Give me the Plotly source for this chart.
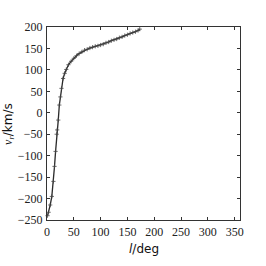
import plotly.graph_objects as go

# Data
l_deg = [1, 3, 6, 9, 12, 14, 16, 18, 19, 21, 23, 25, 27, 30, 33, 36, 40, 45, 50, 55,
         60, 65, 70, 75, 80, 85, 90, 95, 100, 105, 110, 115, 120, 125, 130, 135, 140,
         145, 150, 155, 160, 165, 170, 173]
v_r = [-240, -232, -215, -195, -160, -125, -90, -50, -40, -17, 18, 37, 57, 80, 92, 101,
       112, 120, 127, 133, 138, 142, 146, 148, 151, 153, 155, 156, 158, 160, 163, 165,
       168, 170, 172, 175, 177, 180, 182, 185, 187, 189, 192, 195]

x_ticks = [0, 50, 100, 150, 200, 250, 300, 350]
y_ticks = [-250, -200, -150, -100, -50, 0, 50, 100, 150, 200]

fig = go.Figure()
fig.add_trace(go.Scatter(
    x=l_deg, y=v_r, mode="lines+markers",
    line=dict(color="#2a2a2a", width=1.3),
    marker=dict(symbol="cross-thin", size=3, line=dict(color="#444444", width=0.8)),
    showlegend=False, cliponaxis=False,
))

axis_common = dict(
    showgrid=False, zeroline=False, showline=True, linecolor="#333333", linewidth=1,
    mirror="ticks", ticks="inside", ticklen=3, tickcolor="#333333", tickwidth=1,
    tickfont=dict(family="Liberation Serif", size=12, color="#222222"),
)

fig.update_layout(
    width=266, height=266,
    margin=dict(l=47, r=26, t=27, b=46),
    paper_bgcolor="white", plot_bgcolor="white",
    xaxis=dict(range=[0, 360], tickvals=x_ticks, ticktext=[str(t) for t in x_ticks],
               ticklabelstandoff=1, **axis_common),
    yaxis=dict(range=[-250, 200], tickvals=y_ticks,
               ticktext=[("\u2212" + str(-t)) if t < 0 else str(t) for t in y_ticks],
               ticklabelstandoff=1, **axis_common),
    annotations=[
        dict(text="<i>l</i>/deg", xref="paper", yref="paper", x=0.5, y=-0.148,
             xanchor="center", yanchor="middle", showarrow=False,
             font=dict(family="DejaVu Sans", size=12, color="#111111")),
        dict(text="<i><span style='font-family:Liberation Serif'>v<sub>r</sub></span></i>/km/s",
             xref="paper", yref="paper", x=-0.2, y=0.5, textangle=-90,
             xanchor="center", yanchor="middle", showarrow=False,
             font=dict(family="DejaVu Sans", size=12, color="#111111")),
    ],
)

fig.write_html("out.html", config={"displayModeBar": False},
               post_script="document.body.style.margin='0px';")
